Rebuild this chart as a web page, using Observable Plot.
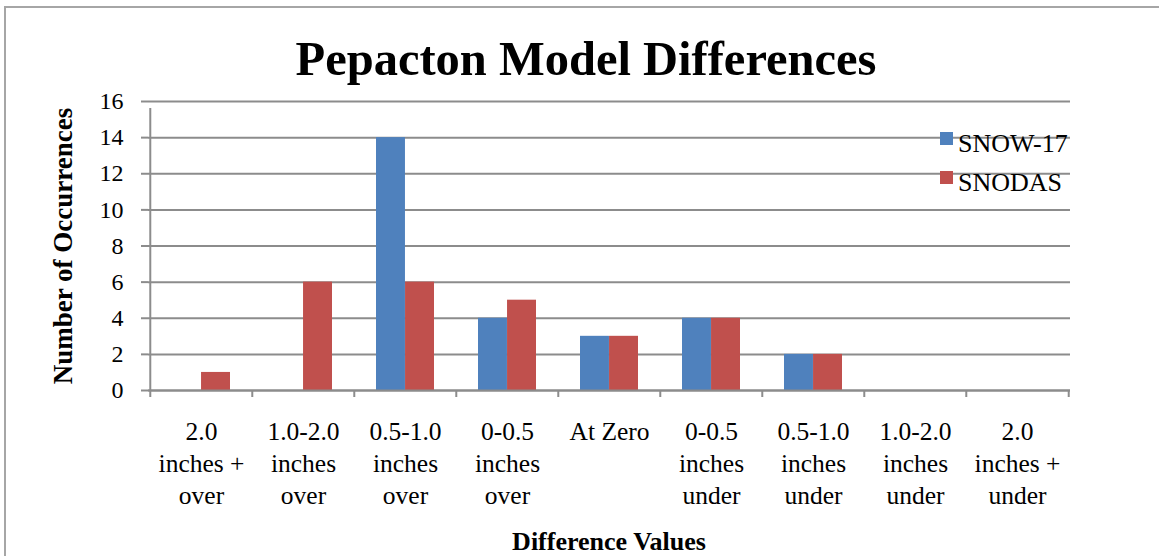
<!DOCTYPE html>
<html>
<head>
<meta charset="utf-8">
<script src="https://cdn.jsdelivr.net/npm/d3@7"></script>
<script src="https://cdn.jsdelivr.net/npm/@observablehq/plot@0.6"></script>
<style>
  html, body { margin: 0; padding: 0; background: #fff; }
  #wrap { position: relative; width: 1159px; height: 556px; overflow: hidden; font-family: "Liberation Serif", "Times New Roman", serif; }
  #border { position: absolute; left: 4px; top: 6px; width: 1200px; height: 600px; border-left: 2px solid #a6a6a6; border-top: 2px solid #a6a6a6; box-sizing: border-box; }
  #title { position: absolute; left: 0; width: 1172px; top: 29px; text-align: center; font-weight: bold; font-size: 48.5px; line-height: 60px; color: #000; }
  #chart { position: absolute; left: 0; top: 0; }
  #legend { position: absolute; left: 940px; top: 124px; font-size: 26px; color: #000; }
  #legend .item { position: relative; height: 39px; line-height: 39px; padding-left: 18px; white-space: nowrap; }
  #legend .sw { position: absolute; left: 0; top: 8px; width: 13px; height: 13px; }
  #xtitle { position: absolute; left: 0; width: 1218px; top: 530px; text-align: center; font-weight: bold; font-size: 26px; line-height: 24px; }
  #chart svg g[aria-label="y-axis tick label"] text { font-size: 24px; }
  #chart svg g[aria-label="x-axis tick label"] text { font-size: 25.5px; }
  #chart svg g[aria-label="y-axis label"] text { font-size: 27px; font-weight: bold; }
</style>
</head>
<body>
<div id="wrap">
  <div id="border"></div>
  <div id="chart"></div>
  <div id="title">Pepacton Model Differences</div>
  <div id="legend"></div>
  <div id="xtitle">Difference Values</div>
</div>
<script>
const categories = [
  "2.0\ninches +\nover",
  "1.0-2.0\ninches\nover",
  "0.5-1.0\ninches\nover",
  "0-0.5\ninches\nover",
  "At Zero",
  "0-0.5\ninches\nunder",
  "0.5-1.0\ninches\nunder",
  "1.0-2.0\ninches\nunder",
  "2.0\ninches +\nunder"
];
const seriesNames = ["SNOW-17", "SNODAS"];
const snow17 = [0, 0, 14, 4, 3, 4, 2, 0, 0];
const snodas = [1, 6, 6, 5, 3, 4, 2, 0, 0];
const yTicks = [0, 2, 4, 6, 8, 10, 12, 14, 16];
const colors = ["#4F81BD", "#C0504D"];

const rows = [];
categories.forEach((c, i) => {
  rows.push({cat: c, series: seriesNames[0], value: snow17[i]});
  rows.push({cat: c, series: seriesNames[1], value: snodas[i]});
});

const W = 1159, H = 556;
const mL = 148, mR = 89, mT = 101, mB = 166;
const step = (W - mL - mR) / categories.length;
const padInner = 0.433;
const bw = step * (1 - padInner);
const grey = "#8c8c8c";

const chart = Plot.plot({
  width: W,
  height: H,
  marginLeft: mL,
  marginRight: mR,
  marginTop: mT,
  marginBottom: mB,
  style: {fontFamily: "Liberation Serif, Times New Roman, serif", fontSize: "24px", color: "#000", background: "transparent"},
  x: {domain: categories, paddingInner: padInner, paddingOuter: padInner / 2, axis: null},
  y: {domain: [0, 16], axis: null},
  color: {domain: seriesNames, range: colors},
  marks: [
    Plot.gridY(yTicks, {stroke: grey, strokeOpacity: 1, strokeWidth: 2}),
    Plot.barY(rows.filter(d => d.series === seriesNames[0]), {x: "cat", y: "value", fill: "series", insetRight: bw / 2}),
    Plot.barY(rows.filter(d => d.series === seriesNames[1]), {x: "cat", y: "value", fill: "series", insetLeft: bw / 2}),
    Plot.ruleY([0], {stroke: grey, strokeWidth: 2}),
    Plot.ruleX(categories, {x: d => d, y1: 0, y2: 0, insetBottom: -7, dx: -step / 2, stroke: grey, strokeWidth: 2}),
    Plot.ruleX(categories.slice(-1), {x: d => d, y1: 0, y2: 0, insetBottom: -7, dx: step / 2, stroke: grey, strokeWidth: 2}),
    Plot.ruleX(categories.slice(0, 1), {x: d => d, y1: 0, y2: 16, insetBottom: -7, dx: -step / 2, stroke: grey, strokeWidth: 2}),
    Plot.axisY(yTicks, {
      tickSize: 7, stroke: grey, strokeWidth: 2, tickPadding: 18, fontSize: 24, fill: "#000",
      label: "Number of Occurrences", labelAnchor: "center", labelArrow: "none", labelOffset: 96
    }),
    Plot.axisX({
      tickSize: 0, tickPadding: 27, fontSize: 25.5, fill: "#000", lineHeight: 32 / 25.5,
      textAnchor: "middle", label: null, lineAnchor: "top"
    })
  ]
});
document.getElementById("chart").appendChild(chart);

const legend = document.getElementById("legend");
seriesNames.forEach((s, i) => {
  const item = document.createElement("div");
  item.className = "item";
  const sw = document.createElement("div");
  sw.className = "sw";
  sw.style.background = colors[i];
  const lab = document.createElement("span");
  lab.textContent = s;
  item.appendChild(sw);
  item.appendChild(lab);
  legend.appendChild(item);
});
</script>
</body>
</html>
